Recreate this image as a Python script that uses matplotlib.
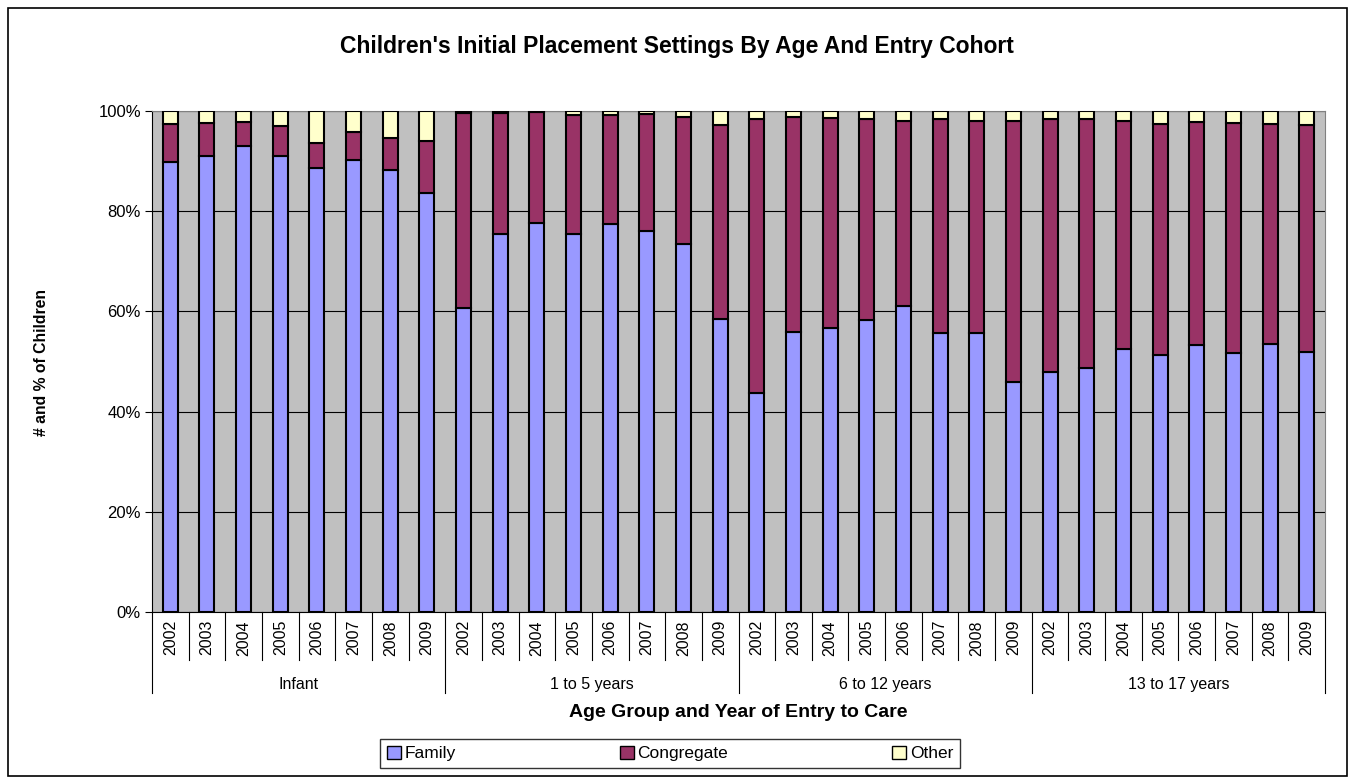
import numpy as np
import matplotlib.pyplot as plt
from matplotlib.patches import Rectangle
import matplotlib.transforms as mtransforms

plt.rcParams['font.family'] = ['Liberation Sans', 'DejaVu Sans']

groups = ['Infant', '1 to 5 years', '6 to 12 years', '13 to 17 years']
years = ['2002', '2003', '2004', '2005', '2006', '2007', '2008', '2009']

# percent of children per bar (4 groups x 8 years)
family = [89.8, 91.0, 93.0, 91.0, 88.6, 90.2, 88.2, 83.6,
          60.7, 75.4, 77.6, 75.4, 77.4, 76.0, 73.4, 58.5,
          43.7, 55.9, 56.7, 58.3, 61.1, 55.7, 55.7, 45.9,
          47.9, 48.7, 52.5, 51.3, 53.3, 51.7, 53.5, 51.9]
congregate = [7.7, 6.7, 4.9, 6.1, 5.0, 5.6, 6.5, 10.4,
              39.0, 24.3, 22.2, 23.8, 21.8, 23.4, 25.5, 38.7,
              54.8, 42.9, 42.0, 40.1, 36.9, 42.8, 42.3, 52.1,
              50.5, 49.7, 45.5, 46.1, 44.5, 45.9, 43.9, 45.3]
other = [2.5, 2.3, 2.1, 2.9, 6.4, 4.2, 5.3, 6.0,
         0.3, 0.3, 0.2, 0.8, 0.8, 0.6, 1.1, 2.8,
         1.5, 1.2, 1.3, 1.6, 2.0, 1.5, 2.0, 2.0,
         1.6, 1.6, 2.0, 2.6, 2.2, 2.4, 2.6, 2.8]

fam = np.array(family)
con = np.array(congregate)
oth = np.array(other)
x = np.arange(len(fam))

fig = plt.figure(figsize=(13.55, 7.84), dpi=100)
ax = fig.add_axes([152/1355, 1-612/784, 1173/1355, 501/784])
ax.set_facecolor('#C0C0C0')

w = 0.41
ax.bar(x, fam, w, color='#9999FF', edgecolor='black', linewidth=1.5, label='Family', zorder=3)
ax.bar(x, con, w, bottom=fam, color='#993366', edgecolor='black', linewidth=1.5, label='Congregate', zorder=3)
ax.bar(x, oth, w, bottom=fam+con, color='#FFFFCC', edgecolor='black', linewidth=1.5, label='Other', zorder=3)

ax.set_xlim(-0.5, len(x)-0.5)
ax.set_ylim(0, 100)
ax.set_yticks(np.arange(0, 101, 20))
ax.set_yticklabels([f'{v}%' for v in range(0, 101, 20)], fontsize=12)
ax.yaxis.grid(True, color='black', linewidth=0.8, zorder=1)
ax.tick_params(axis='y', length=5, width=0.8, pad=3)
ax.set_xticks([])
for s in ['top', 'right']:
    ax.spines[s].set_color('#808080')
ax.spines['left'].set_color('black')
ax.spines['bottom'].set_color('black')

# category axis below the plot
trans = mtransforms.blended_transform_factory(ax.transData, ax.transAxes)
n = len(years)
for i in range(len(x) + 1):
    pos = i - 0.5
    bot = -0.162 if i % n == 0 else -0.096
    ax.plot([pos, pos], [0, bot], color='black', lw=0.8, transform=trans, clip_on=False)
for i in range(len(x)):
    ax.text(i, -0.016, years[i % n], rotation=90, ha='center', va='top',
            fontsize=11.5, transform=trans)
for g, name in enumerate(groups):
    ax.text(g*n + (n-1)/2, -0.145, name, ha='center', va='center',
            fontsize=11.5, transform=trans)

ax.text(0.5, -0.2, 'Age Group and Year of Entry to Care', ha='center', va='center',
        fontsize=14, fontweight='bold', transform=ax.transAxes)
fig.text(42/1355, 1-362/784, '# and % of Children', rotation=90, ha='center', va='center',
         fontsize=11.3, fontweight='bold')
fig.text(677/1355, 1-46/784, "Children's Initial Placement Settings By Age And Entry Cohort",
         ha='center', va='center', fontsize=16.5, fontweight='bold')

leg = fig.legend(loc='center', bbox_to_anchor=(380/1355, 1-770/784, 580/1355, 33/784),
                 mode='expand', ncol=3, frameon=True, fancybox=False, edgecolor='black',
                 fontsize=12.5, handlelength=0.8, handleheight=0.8, handletextpad=0.2,
                 borderpad=0.4, borderaxespad=0)
leg.get_frame().set_linewidth(1.0)
for h in leg.legend_handles:
    h.set_linewidth(1.0)

fig.patches.append(Rectangle((8/1355, 8/784), 1339/1355, 768/784, transform=fig.transFigure,
                             fill=False, edgecolor='black', linewidth=1.2))

fig.savefig('out.png', dpi=100)
